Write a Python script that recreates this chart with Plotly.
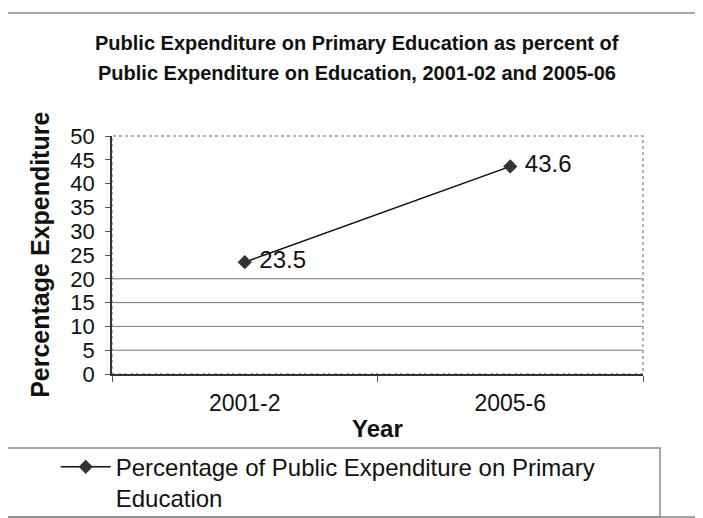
import plotly.graph_objects as go

years = ['2001-2', '2005-6']
primary_share = [23.5, 43.6]
series_name = 'Percentage of Public Expenditure on Primary<br>Education'
y_ticks = [0, 5, 10, 15, 20, 25, 30, 35, 40, 45, 50]
grid_values = [5, 10, 15, 20]

FONT = 'Liberation Sans, Arial, sans-serif'

fig = go.Figure()
fig.add_trace(go.Scatter(
    x=years, y=primary_share, name=series_name,
    mode='lines+markers+text',
    text=[' ' + str(v) for v in primary_share], textposition='middle right',
    textfont=dict(size=24, color='#111', family=FONT),
    line=dict(color='#111', width=1.5),
    marker=dict(symbol='diamond', size=11, color='#333'),
))

shapes = []
# partial gridlines (only the lower ones show in the original)
for g in grid_values:
    shapes.append(dict(type='line', xref='paper', yref='y', x0=0, x1=1, y0=g, y1=g,
                       line=dict(color='#777', width=1), layer='below'))
# plot area border (top/right dotted grey)
shapes.append(dict(type='rect', xref='paper', yref='paper', x0=0, x1=1, y0=0, y1=1,
                   line=dict(color='#999', width=1.5, dash='dot'), layer='below'))
# outer chart border
shapes.append(dict(type='rect', xref='paper', yref='paper', x0=-0.198, x1=1.104, y0=-0.601, y1=1.517,
                   line=dict(color='#888', width=1.5)))
# legend box
shapes.append(dict(type='rect', xref='paper', yref='paper', x0=-0.198, x1=1.032, y0=-0.601, y1=-0.311,
                   line=dict(color='#888', width=1.5)))

annotations = [
    dict(text='<b>Public Expenditure on Primary Education as percent of</b>',
         xref='paper', yref='paper', x=0.462, y=1.444, showarrow=False,
         font=dict(size=20, family=FONT, color='#111')),
    dict(text='<b>Public Expenditure on Education, 2001-02 and 2005-06</b>',
         xref='paper', yref='paper', x=0.462, y=1.318, showarrow=False,
         font=dict(size=20, family=FONT, color='#111')),
    dict(text='<b>Percentage Expenditure</b>', textangle=-90,
         xref='paper', yref='paper', x=-0.166, y=0.5, showarrow=False,
         font=dict(size=25, family=FONT, color='#111')),
    dict(text='<b>Year</b>',
         xref='paper', yref='paper', x=0.5, y=-0.294, showarrow=False,
         font=dict(size=24, family=FONT, color='#111')),
]

fig.update_layout(
    width=703, height=518,
    margin=dict(l=104, r=68, t=128, b=152, autoexpand=False),
    paper_bgcolor='white', plot_bgcolor='white',
    font=dict(family=FONT, color='#111'),
    showlegend=True,
    legend=dict(x=-0.106, y=-0.297, xanchor='left', yanchor='top', valign='top',
                font=dict(size=24, family=FONT, color='#111'),
                bgcolor='rgba(0,0,0,0)', borderwidth=0, itemwidth=50),
    xaxis=dict(type='category', range=[-0.5, 1.5], showline=True, linecolor='#333', linewidth=1.5,
               ticks='outside', tickson='boundaries', ticklen=6, tickcolor='#555',
               ticklabelstandoff=8,
               showgrid=False, tickfont=dict(size=23, family=FONT), zeroline=False),
    yaxis=dict(range=[0, 50], tickvals=y_ticks, showline=True, linecolor='#333', linewidth=1.5,
               ticks='outside', ticklen=5, tickcolor='#555', showgrid=False, zeroline=False,
               ticklabelstandoff=6,
               tickfont=dict(size=22, family=FONT)),
    shapes=shapes,
    annotations=annotations,
)

fig.write_html('out.html')
